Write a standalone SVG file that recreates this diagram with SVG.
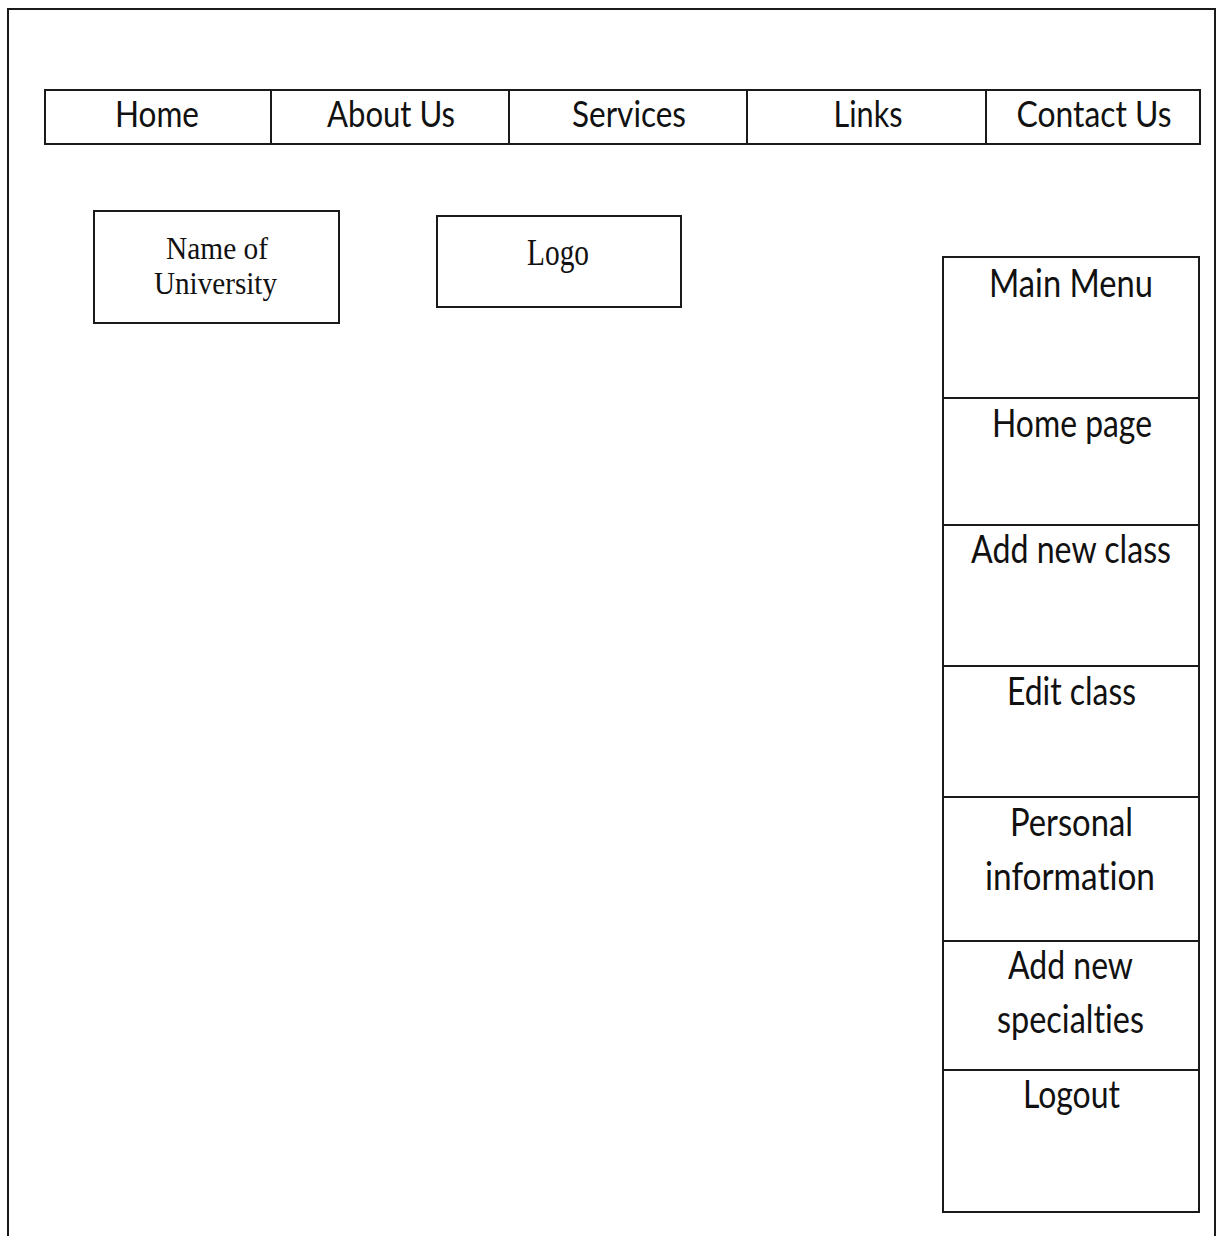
<svg xmlns="http://www.w3.org/2000/svg" width="1221" height="1236" viewBox="0 0 1221 1236">
<style>
.box{fill:none;stroke:#1a1a1a;stroke-width:2}
.s{font-family:Lato,"Open Sans","Liberation Sans",sans-serif;fill:#111;text-anchor:middle;font-variant-ligatures:none}
.nav{font-size:36px}
.menu{font-size:38px}
.serif{font-family:"Liberation Serif","Times New Roman",serif;fill:#111;text-anchor:middle;font-size:38px}
.name{font-size:31px}
</style>
<rect x="0" y="0" width="1221" height="1236" fill="#fff"/>
<path class="box" d="M8,1236 V9 H1215 V1236"/>
<g id="navbar">
<rect class="box" x="45" y="90" width="1155" height="54"/>
<line class="box" x1="271" y1="90" x2="271" y2="144"/>
<line class="box" x1="509" y1="90" x2="509" y2="144"/>
<line class="box" x1="747" y1="90" x2="747" y2="144"/>
<line class="box" x1="986" y1="90" x2="986" y2="144"/>
</g>
<g id="nav-home"><text class="s nav" x="157" y="127" textLength="84" lengthAdjust="spacingAndGlyphs">Home</text></g>
<g id="nav-about"><text class="s nav" x="391" y="127" textLength="128" lengthAdjust="spacingAndGlyphs">About Us</text></g>
<g id="nav-services"><text class="s nav" x="629" y="127" textLength="114" lengthAdjust="spacingAndGlyphs">Services</text></g>
<g id="nav-links"><text class="s nav" x="868" y="127" textLength="69" lengthAdjust="spacingAndGlyphs">Links</text></g>
<g id="nav-contact"><text class="s nav" x="1094" y="127" textLength="155" lengthAdjust="spacingAndGlyphs">Contact Us</text></g>
<g id="name-of-university">
<rect class="box" x="94" y="211" width="245" height="112"/>
<text class="serif name" x="217" y="259" textLength="102" lengthAdjust="spacingAndGlyphs">Name of</text>
<text class="serif name" x="215.5" y="294" textLength="123" lengthAdjust="spacingAndGlyphs">University</text>
</g>
<g id="logo">
<rect class="box" x="437" y="216" width="244" height="91"/>
<text class="serif" x="558" y="265" textLength="62" lengthAdjust="spacingAndGlyphs">Logo</text>
</g>
<g id="menu-main">
<rect class="box" x="943" y="257" width="256" height="141"/>
<text class="s menu" x="1071" y="297" textLength="164" lengthAdjust="spacingAndGlyphs">Main Menu</text>
</g>
<g id="menu-home">
<rect class="box" x="943" y="398" width="256" height="127"/>
<text class="s menu" x="1072" y="437" textLength="160" lengthAdjust="spacingAndGlyphs">Home page</text>
</g>
<g id="menu-add-class">
<rect class="box" x="943" y="525" width="256" height="141"/>
<text class="s menu" x="1071" y="563" textLength="200" lengthAdjust="spacingAndGlyphs">Add new class</text>
</g>
<g id="menu-edit-class">
<rect class="box" x="943" y="666" width="256" height="131"/>
<text class="s menu" x="1071.5" y="705" textLength="129" lengthAdjust="spacingAndGlyphs">Edit class</text>
</g>
<g id="menu-personal">
<rect class="box" x="943" y="797" width="256" height="144"/>
<text class="s menu" x="1071.5" y="836" textLength="123" lengthAdjust="spacingAndGlyphs">Personal</text>
<text class="s menu" x="1070" y="890" textLength="170" lengthAdjust="spacingAndGlyphs">information</text>
</g>
<g id="menu-specialties">
<rect class="box" x="943" y="941" width="256" height="129"/>
<text class="s menu" x="1070.5" y="979" textLength="125" lengthAdjust="spacingAndGlyphs">Add new</text>
<text class="s menu" x="1070.5" y="1033" textLength="147" lengthAdjust="spacingAndGlyphs">specialties</text>
</g>
<g id="menu-logout">
<rect class="box" x="943" y="1070" width="256" height="142"/>
<text class="s menu" x="1071.5" y="1108" textLength="97" lengthAdjust="spacingAndGlyphs">Logout</text>
</g>
<g id="connectors"></g>
</svg>
